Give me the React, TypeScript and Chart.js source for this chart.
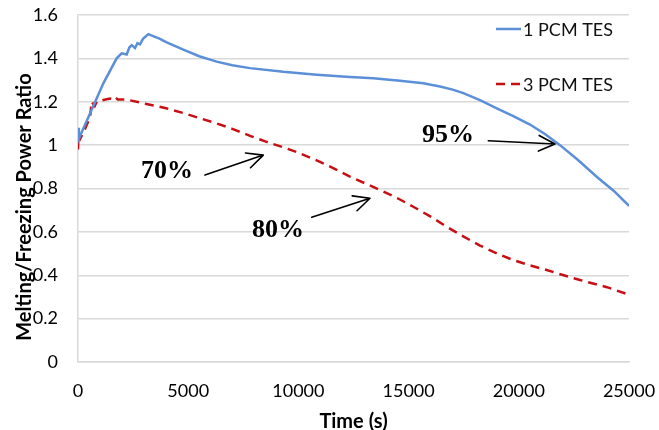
import React, { useEffect, useRef } from "react";
import { Chart, registerables } from "chart.js";

Chart.register(...registerables);

// Melting/freezing power ratio over time, single-PCM storage
const onePcmTime = [
  0, 40, 545, 1150, 1755, 1980, 2210, 2330, 2435, 2586, 2700, 2813, 2950, 3190,
  3720, 4000, 4778, 5500, 6293, 7000, 7804, 9316, 10830, 12341, 13400, 14610,
  15667, 16425, 17000, 17482, 18240, 19000, 19750, 20508, 21200, 21869, 22700,
  23534, 24300, 25000,
];
const onePcmRatio = [
  1.08, 1.03, 1.146, 1.285, 1.4, 1.423, 1.418, 1.45, 1.461, 1.448, 1.47, 1.465, 1.49,
  1.512, 1.49, 1.475, 1.44, 1.41, 1.385, 1.368, 1.355, 1.338, 1.325, 1.314, 1.308,
  1.297, 1.285, 1.27, 1.256, 1.24, 1.208, 1.17, 1.134, 1.095, 1.05, 1.0, 0.93,
  0.854, 0.79, 0.72,
];

// Melting/freezing power ratio over time, three-PCM cascade storage
const threePcmTime = [
  0, 20, 100, 300, 550, 620, 760, 850, 1150, 1450, 1600, 1700, 1800, 2200, 3100,
  4000, 4778, 5500, 6293, 7000, 7804, 8500, 9316, 10000, 10830, 11600, 12341,
  13000, 13702, 14500, 15213, 16000, 16727, 17500, 18240, 19000, 19750, 20500,
  21266, 22000, 22777, 24000, 25000,
];
const threePcmRatio = [
  0.98, 1.05, 1.03, 1.07, 1.13, 1.2, 1.18, 1.2, 1.208, 1.215, 1.21, 1.22, 1.21,
  1.21, 1.19, 1.17, 1.148, 1.125, 1.1, 1.075, 1.043, 1.017, 0.99, 0.965, 0.93,
  0.893, 0.855, 0.825, 0.793, 0.755, 0.716, 0.67, 0.624, 0.578, 0.537, 0.501,
  0.47, 0.446, 0.424, 0.401, 0.378, 0.345, 0.31,
];

const seriesNames = ["1 PCM TES", "3 PCM TES"];
const seriesColors = ["#5B8FD8", "#C80F14"];

const xMin = 0;
const xMax = 25000;
const xStep = 5000;
const yMin = 0;
const yMax = 1.6;
const yStep = 0.2;

const xTitle = "Time (s)";
const yTitle = "Melting/Freezing Power Ratio";

// Percent callouts: label, label centre, arrow tail and arrow head (data units)
const calloutLabels = ["70%", "80%", "95%"];
const calloutText = [
  [4038, 0.88],
  [9074, 0.609],
  [16788, 1.047],
];
const calloutTail = [
  [5762, 0.862],
  [10604, 0.667],
  [18616, 1.02],
];
const calloutHead = [
  [8408, 0.954],
  [13249, 0.755],
  [21642, 1.005],
];

const tickFont = { family: "Lato", size: 18 };
const boldFont = "bold 20px Lato";

const zip = (xs: number[], ys: number[]) => xs.map((x, i) => ({ x, y: ys[i] }));

const extrasPlugin = {
  id: "extras",
  afterDatasetsDraw(chart: any) {
    const { ctx, chartArea, scales } = chart;
    const xs = scales.x;
    const ys = scales.y;
    ctx.save();

    // arrows and percent labels
    ctx.strokeStyle = "#000";
    ctx.fillStyle = "#000";
    ctx.lineWidth = 1.6;
    ctx.lineCap = "round";
    ctx.lineJoin = "round";
    calloutLabels.forEach((label, i) => {
      const x1 = xs.getPixelForValue(calloutTail[i][0]);
      const y1 = ys.getPixelForValue(calloutTail[i][1]);
      const x2 = xs.getPixelForValue(calloutHead[i][0]);
      const y2 = ys.getPixelForValue(calloutHead[i][1]);
      const ang = Math.atan2(y2 - y1, x2 - x1);
      const len = 18;
      const spread = 0.45;
      ctx.beginPath();
      ctx.moveTo(x1, y1);
      ctx.lineTo(x2, y2);
      ctx.moveTo(x2 - len * Math.cos(ang - spread), y2 - len * Math.sin(ang - spread));
      ctx.lineTo(x2, y2);
      ctx.lineTo(x2 - len * Math.cos(ang + spread), y2 - len * Math.sin(ang + spread));
      ctx.stroke();

      ctx.font = "bold 26px 'Liberation Serif'";
      ctx.textAlign = "center";
      ctx.textBaseline = "middle";
      ctx.fillText(
        label,
        xs.getPixelForValue(calloutText[i][0]),
        ys.getPixelForValue(calloutText[i][1])
      );
    });

    // legend inside the plot, top right
    ctx.font = "18px Lato";
    ctx.textAlign = "left";
    ctx.textBaseline = "middle";
    chart.data.datasets.forEach((ds: any, i: number) => {
      const ly = chartArea.top + 14 + i * 55;
      const lx = chartArea.right - 133;
      ctx.strokeStyle = ds.borderColor;
      ctx.lineWidth = ds.borderWidth;
      ctx.lineCap = "butt";
      ctx.setLineDash(ds.borderDash || []);
      ctx.beginPath();
      ctx.moveTo(lx, ly);
      ctx.lineTo(lx + 25, ly);
      ctx.stroke();
      ctx.setLineDash([]);
      ctx.fillStyle = "#111";
      ctx.fillText(ds.label, lx + 27, ly + 1);
    });

    // vertical axis title
    ctx.font = boldFont;
    ctx.fillStyle = "#000";
    ctx.textAlign = "center";
    ctx.textBaseline = "middle";
    ctx.translate(25, 207);
    ctx.rotate(-Math.PI / 2);
    ctx.fillText(yTitle, 0, 0);
    ctx.restore();
  },
};

export default function App() {
  const canvasRef = useRef<HTMLCanvasElement | null>(null);

  useEffect(() => {
    if (!canvasRef.current) return;
    const chart = new Chart(canvasRef.current, {
      type: "line",
      data: {
        datasets: [
          {
            label: seriesNames[0],
            data: zip(onePcmTime, onePcmRatio),
            borderColor: seriesColors[0],
            borderWidth: 2.5,
            pointRadius: 0,
            tension: 0,
            fill: false,
          },
          {
            label: seriesNames[1],
            data: zip(threePcmTime, threePcmRatio),
            borderColor: seriesColors[1],
            borderWidth: 2.5,
            borderDash: [9, 6],
            pointRadius: 0,
            tension: 0,
            fill: false,
          },
        ],
      },
      options: {
        animation: false,
        responsive: false,
        devicePixelRatio: 1,
        layout: { padding: { top: 15, right: 30, left: 0, bottom: 0 } },
        plugins: { legend: { display: false }, tooltip: { enabled: false } },
        scales: {
          x: {
            type: "linear",
            min: xMin,
            max: xMax,
            ticks: {
              stepSize: xStep,
              color: "#000",
              font: tickFont,
              padding: 18,
              maxRotation: 0,
              callback: (v: any) => String(v),
            },
            grid: { display: false, drawTicks: false },
            border: { display: true, color: "#D9D9D9", width: 1.5 },
            title: {
              display: true,
              text: xTitle,
              color: "#000",
              font: { family: "Lato", size: 20, weight: "bold", lineHeight: 1.2 },
              padding: { top: 0, bottom: -4 },
            },
            afterFit(scale: any) {
              scale.height = 68;
              scale.paddingLeft = 0;
              scale.paddingRight = 0;
            },
          },
          y: {
            min: yMin,
            max: yMax,
            ticks: {
              stepSize: yStep,
              color: "#000",
              font: tickFont,
              padding: 20,
              callback: (v: any) => String(Math.round(Number(v) * 10) / 10),
            },
            grid: { color: "#D9D9D9", lineWidth: 1.5, drawTicks: false },
            border: { display: true, color: "#D9D9D9", width: 1.5 },
            afterFit(scale: any) {
              scale.width = 78;
              scale.paddingTop = 0;
              scale.paddingBottom = 0;
            },
          },
        },
      },
      plugins: [extrasPlugin],
    });
    return () => chart.destroy();
  }, []);

  return (
    <div style={{ position: "fixed", left: 0, top: 0, width: 659, height: 430, background: "#fff" }}>
      <canvas ref={canvasRef} width={659} height={430} />
    </div>
  );
}
